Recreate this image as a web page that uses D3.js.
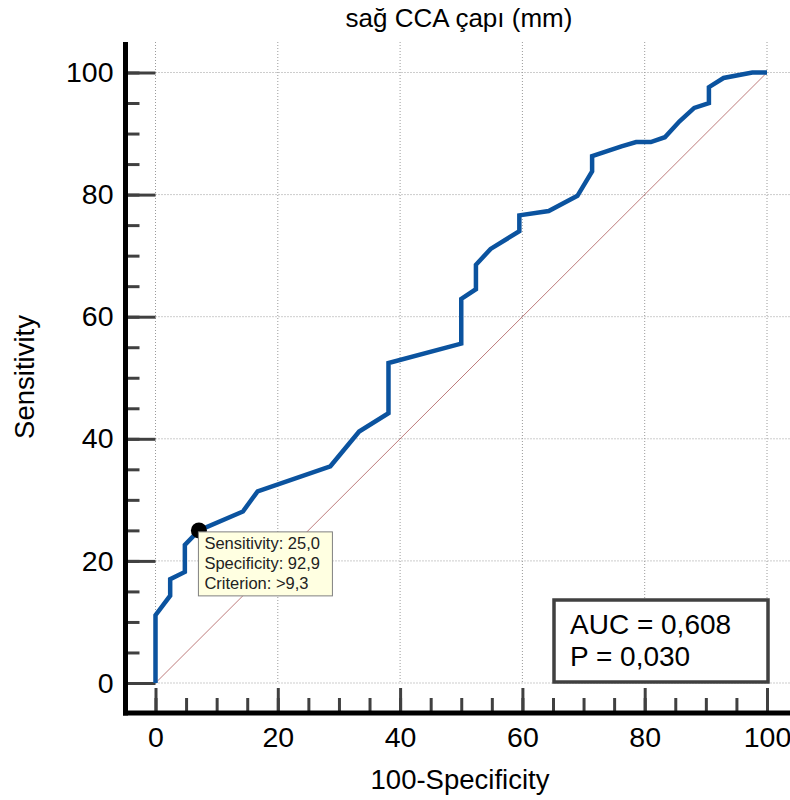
<!DOCTYPE html>
<html>
<head>
<meta charset="utf-8">
<script src="https://cdn.jsdelivr.net/npm/d3@7/dist/d3.min.js"></script>
<style>
  html, body { margin: 0; padding: 0; background: #fff; }
  svg { display: block; font-family: Arial, "Liberation Sans", sans-serif; }
</style>
</head>
<body>
<svg id="chart" width="790" height="800"></svg>
<script>
// ---- data ----
const title = "sağ CCA çapı (mm)";
const xLabel = "100-Specificity";
const yLabel = "Sensitivity";
const fpr = [0, 0, 2.4, 2.4, 4.8, 4.8, 7.1, 14.3, 16.7, 28.6, 33.3, 38.1, 38.1, 50.0, 50.0, 52.4, 52.4, 54.8, 59.5, 59.5, 64.3, 69.0, 71.4, 71.4, 76.2, 78.6, 81.0, 83.3, 85.7, 88.1, 90.5, 90.5, 92.9, 97.6, 100];
const tpr = [0, 11.1, 14.3, 17.0, 18.2, 22.6, 25.0, 28.1, 31.4, 35.5, 41.2, 44.2, 52.4, 55.6, 62.9, 64.5, 68.5, 71.1, 74.0, 76.6, 77.3, 79.8, 83.8, 86.3, 87.9, 88.6, 88.6, 89.4, 92.0, 94.2, 95.0, 97.6, 99.1, 100, 100];
const majorTicks = [0, 20, 40, 60, 80, 100];
const minorTicks = [0, 5, 10, 15, 20, 25, 30, 35, 40, 45, 50, 55, 60, 65, 70, 75, 80, 85, 90, 95, 100];
const criterionPoint = { x: 7.1, y: 25.0 };
const tooltipLines = ["Sensitivity: 25,0", "Specificity: 92,9", "Criterion: >9,3"];
const statLines = ["AUC = 0,608", "P = 0,030"];

// ---- layout ----
const svg = d3.select("#chart");
const x = d3.scaleLinear().domain([0, 100]).range([155.5, 767]);
const y = d3.scaleLinear().domain([0, 100]).range([683, 72.5]);
const axisX = 125.5, axisY = 713, topY = 42, rightX = 790;

// grid
const grid = svg.append("g").attr("stroke", "#9a9a9a").attr("stroke-width", 1).attr("stroke-dasharray", "1,2");
grid.selectAll(".gv").data(majorTicks).join("line")
  .attr("x1", d => x(d)).attr("x2", d => x(d)).attr("y1", topY).attr("y2", y(0));
grid.selectAll(".gh").data(majorTicks).join("line")
  .attr("x1", x(0)).attr("x2", rightX).attr("y1", d => y(d)).attr("y2", d => y(d));

// diagonal reference
svg.append("line")
  .attr("x1", x(0)).attr("y1", y(0)).attr("x2", x(100)).attr("y2", y(100))
  .attr("stroke", "#a85050").attr("stroke-opacity", 0.75).attr("stroke-width", 1);

// ticks (inward)
function styleTicks(g, w) {
  g.select(".domain").remove();
  g.selectAll(".tick line").attr("stroke", "#404040").attr("stroke-width", w);
  g.selectAll(".tick text").remove();
}
svg.append("g").attr("transform", `translate(${axisX},0)`)
  .call(d3.axisRight(y).tickValues(minorTicks).tickSize(14).tickSizeOuter(0))
  .call(g => styleTicks(g, 3));
svg.append("g").attr("transform", `translate(${axisX},0)`)
  .call(d3.axisRight(y).tickValues(majorTicks).tickSize(30).tickSizeOuter(0))
  .call(g => styleTicks(g, 3));
svg.append("g").attr("transform", `translate(0,${axisY - 2})`)
  .call(d3.axisTop(x).tickValues(minorTicks).tickSize(13).tickSizeOuter(0))
  .call(g => styleTicks(g, 3));
svg.append("g").attr("transform", `translate(0,${axisY - 2})`)
  .call(d3.axisTop(x).tickValues(majorTicks).tickSize(23).tickSizeOuter(0))
  .call(g => styleTicks(g, 3));

// tick labels
const yl = svg.append("g").attr("transform", `translate(${axisX},0)`)
  .call(d3.axisLeft(y).tickValues(majorTicks).tickSize(0).tickPadding(12).tickFormat(d3.format("d")));
yl.select(".domain").remove();
yl.selectAll("text").attr("font-size", 28.5).attr("fill", "#000").attr("font-family", "Arial, 'Liberation Sans', sans-serif");
const xl = svg.append("g").attr("transform", `translate(0,${axisY})`)
  .call(d3.axisBottom(x).tickValues(majorTicks).tickSize(0).tickPadding(14).tickFormat(d3.format("d")));
xl.select(".domain").remove();
xl.selectAll("text").attr("font-size", 28.5).attr("fill", "#000").attr("font-family", "Arial, 'Liberation Sans', sans-serif");

// axis lines
svg.append("line").attr("x1", axisX).attr("x2", axisX).attr("y1", topY).attr("y2", axisY + 2.5)
  .attr("stroke", "#000").attr("stroke-width", 5);
svg.append("line").attr("x1", axisX - 2.5).attr("x2", rightX).attr("y1", axisY).attr("y2", axisY)
  .attr("stroke", "#000").attr("stroke-width", 5);

// ROC curve
const pts = fpr.map((d, i) => [d, tpr[i]]);
svg.append("path").datum(pts)
  .attr("d", d3.line().x(d => x(d[0])).y(d => y(d[1])))
  .attr("fill", "none").attr("stroke", "#0b539f").attr("stroke-width", 4.5)
  .attr("stroke-linejoin", "miter");

// criterion marker
svg.append("circle").attr("cx", x(criterionPoint.x)).attr("cy", y(criterionPoint.y)).attr("r", 8).attr("fill", "#000");

// tooltip box
const tipX = x(criterionPoint.x) - 0.5, tipY = y(criterionPoint.y) + 1.5;
svg.append("rect").attr("x", tipX).attr("y", tipY).attr("width", 134).attr("height", 64)
  .attr("fill", "#ffffe1").attr("stroke", "#808080").attr("stroke-width", 1);
svg.append("g").selectAll("text").data(tooltipLines).join("text")
  .attr("x", tipX + 6).attr("y", (d, i) => tipY + 17 + i * 20)
  .attr("font-size", 16.5).attr("fill", "#222").text(d => d);

// stats box
svg.append("rect").attr("x", 554).attr("y", 600).attr("width", 214).attr("height", 82)
  .attr("fill", "#fff").attr("stroke", "#404040").attr("stroke-width", 3.5);
svg.append("g").selectAll("text").data(statLines).join("text")
  .attr("x", 570).attr("y", (d, i) => 634 + i * 32)
  .attr("font-size", 28).attr("fill", "#000").text(d => d);

// titles
svg.append("text").attr("x", 459).attr("y", 27).attr("text-anchor", "middle")
  .attr("font-size", 26).attr("fill", "#000").text(title);
svg.append("text").attr("x", 460).attr("y", 789).attr("text-anchor", "middle")
  .attr("font-size", 27.5).attr("fill", "#000").text(xLabel);
svg.append("text").attr("transform", "translate(34,377) rotate(-90)").attr("text-anchor", "middle")
  .attr("font-size", 27.5).attr("fill", "#000").text(yLabel);
</script>
</body>
</html>
